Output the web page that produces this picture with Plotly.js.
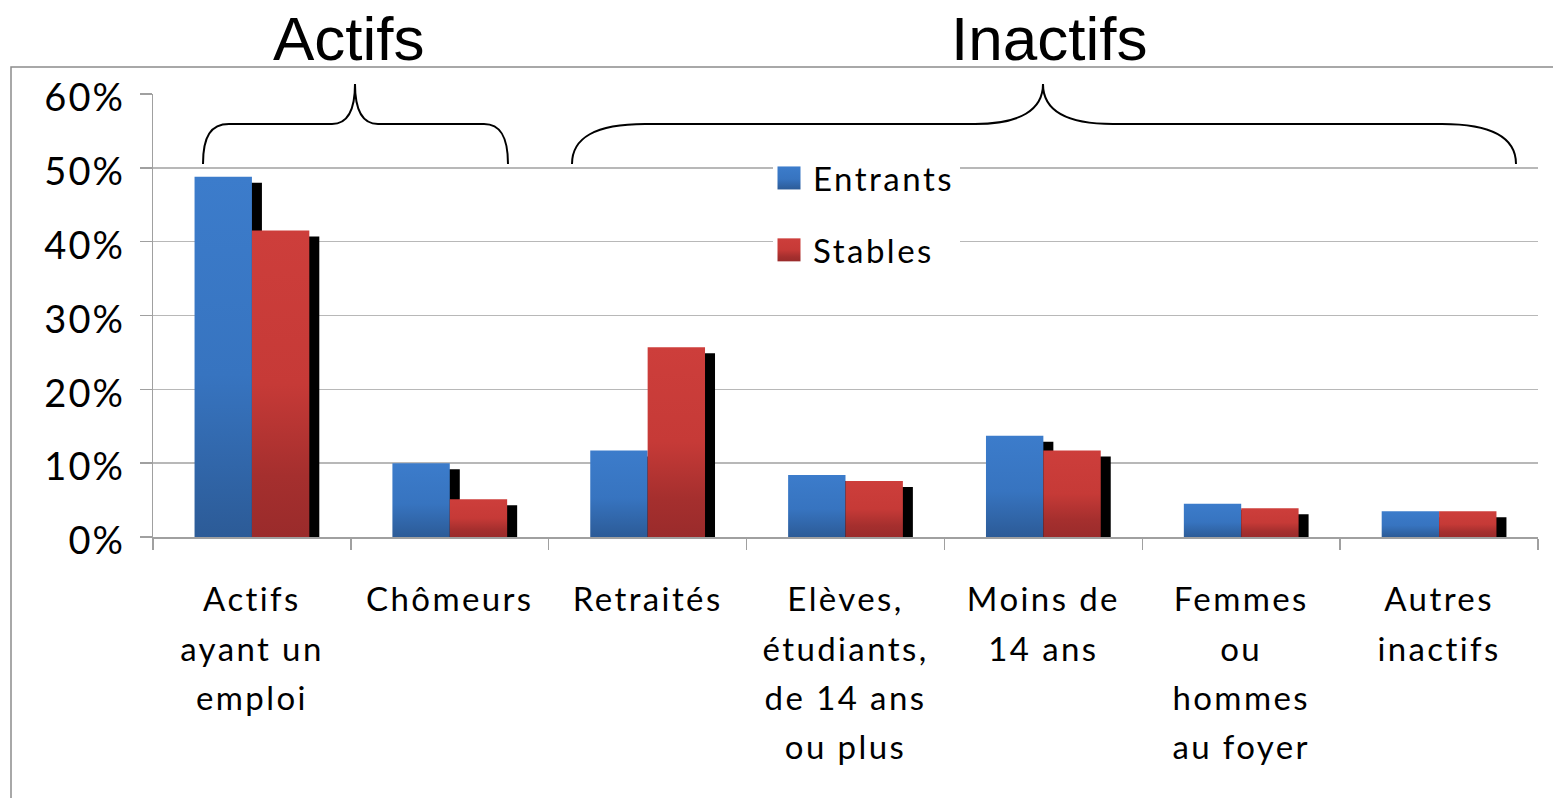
<!DOCTYPE html>
<html><head><meta charset="utf-8">
<script src="https://cdn.plot.ly/plotly-3.0.1.min.js"></script>
<style>html,body{margin:0;padding:0;background:#fff;overflow:hidden}#chart{width:1553px;height:798px}</style>
</head><body><div id="chart"></div>
<script>
// ---- data ----
const categories = ["Actifs ayant un emploi", "Chômeurs", "Retraités", "Elèves, étudiants, de 14 ans ou plus", "Moins de 14 ans", "Femmes ou hommes au foyer", "Autres inactifs"];
const tickLabels = ["Actifs<br>ayant un<br>emploi", "Chômeurs", "Retraités", "Elèves,<br>étudiants,<br>de 14 ans<br>ou plus", "Moins de<br>14 ans", "Femmes<br>ou<br>hommes<br>au foyer", "Autres<br>inactifs"];
const entrants = [48.8, 10.0, 11.7, 8.4, 13.7, 4.5, 3.5];
const stables = [41.5, 5.1, 25.7, 7.6, 11.7, 3.9, 3.5];
const seriesNames = ["Entrants", "Stables"];
const groupLabels = ["Actifs", "Inactifs"];
const yTickVals = [0, 10, 20, 30, 40, 50, 60];
const yTickLabels = ["0%", "10%", "20%", "30%", "40%", "50%", "60%"];

// ---- geometry / style ----
const W = 1553, H = 798;
const L = 153, R = 1538, T = 94, B = 537;
const PW = R - L, PH = B - T;
const BAR_W = 0.29;
const SHADOW_DX = 10 / (PW / 7);
const SHADOW_DROP = 6 / (PH / 60);
const px = x => (x - L) / PW;
const py = y => (B - y) / PH;
function pathPaper(pts) {
  return pts.map(c => c[0] + c.slice(1).reduce((a, v, i) => {
    a.push(i % 2 === 0 ? px(v).toFixed(5) : py(v).toFixed(5)); return a;
  }, []).join(',')).join(' ');
}
const braceActifs = pathPaper([
  ['M', 203, 164], ['C', 203, 136, 211, 124, 229, 124], ['L', 332, 124],
  ['C', 348, 124, 355, 110, 355, 84], ['C', 355, 110, 362, 124, 378, 124],
  ['L', 484, 124], ['C', 500, 124, 508, 136, 508, 164]
]);
const braceInactifs = pathPaper([
  ['M', 572, 164], ['C', 572, 138, 595, 124, 645, 124], ['L', 975, 124],
  ['C', 1020, 124, 1043, 110, 1043, 84], ['C', 1043, 110, 1066, 124, 1113, 124],
  ['L', 1442, 124], ['C', 1492, 124, 1516, 138, 1516, 164]
]);

const spaced = (t, size, ls) => '<span style="font-size:' + size + 'px;letter-spacing:' + ls + 'px">' + t + '</span>';
const styledTicks = tickLabels.map(t => t.split('<br>').map(s => spaced(s, 33, 2.4)).join('<br>'));
const styledYTicks = yTickLabels.map(t => spaced(t, 38, 2));

const data = [
  {type: 'bar', x: categories, y: entrants.map(v => v - SHADOW_DROP), width: BAR_W, offset: -BAR_W + SHADOW_DX,
   marker: {color: '#000000', line: {width: 0}}, showlegend: false, hoverinfo: 'skip'},
  {type: 'bar', x: categories, y: stables.map(v => v - SHADOW_DROP), width: BAR_W, offset: SHADOW_DX,
   marker: {color: '#000000', line: {width: 0}}, showlegend: false, hoverinfo: 'skip'},
  {type: 'bar', name: spaced(seriesNames[0], 33, 2.5), x: categories, y: entrants, width: BAR_W, offset: -BAR_W,
   marker: {color: '#3571bd', line: {width: 0}}, legendgroup: 'e'},
  {type: 'bar', name: spaced(seriesNames[1], 33, 2.5), x: categories, y: stables, width: BAR_W, offset: 0,
   marker: {color: '#bd3734', line: {width: 0}}, legendgroup: 's'}
];

const layout = {
  width: W, height: H,
  margin: {l: L, r: W - R, t: T, b: H - B, pad: 0},
  paper_bgcolor: '#ffffff', plot_bgcolor: '#ffffff',
  barmode: 'overlay',
  font: {family: 'Lato, "Open Sans", sans-serif', color: '#000000', size: 32},
  showlegend: true,
  legend: {
    x: px(773), y: py(150), xanchor: 'left', yanchor: 'top',
    bgcolor: '#ffffff', borderwidth: 0,
    font: {family: 'Lato, sans-serif', size: 33, color: '#000000'},
    traceorder: 'grouped', tracegroupgap: 26, itemwidth: 30
  },
  xaxis: {
    type: 'category', range: [-0.5, 6.5],
    tickmode: 'array', tickvals: categories, ticktext: styledTicks,
    tickson: 'boundaries', ticks: 'outside', ticklen: 11, tickwidth: 1.5, tickcolor: '#a0a0a0',
    showline: true, linecolor: '#a0a0a0', linewidth: 1.5,
    showgrid: false, zeroline: false,
    tickfont: {family: 'Lato, sans-serif', size: 38, color: '#000000'},
    ticklabelstandoff: 27, tickangle: 0, fixedrange: true
  },
  yaxis: {
    range: [0, 60], tickmode: 'array', tickvals: yTickVals, ticktext: styledYTicks,
    ticks: 'outside', ticklen: 12, tickwidth: 1.5, tickcolor: '#a0a0a0',
    showline: true, linecolor: '#a0a0a0', linewidth: 1.5,
    showgrid: true, gridcolor: '#b8b8b8', gridwidth: 1.5, zeroline: false,
    tickfont: {family: 'Lato, sans-serif', size: 38, color: '#000000'},
    ticklabelstandoff: 7, ticklabelshift: 4, fixedrange: true
  },
  shapes: [
    {type: 'rect', xref: 'paper', yref: 'paper', x0: px(11), y0: py(820), x1: px(1570), y1: py(67),
     line: {color: '#8c8c8c', width: 1.5}, fillcolor: 'rgba(0,0,0,0)', layer: 'below'},
    {type: 'path', xref: 'paper', yref: 'paper', path: braceActifs, line: {color: '#000000', width: 2}},
    {type: 'path', xref: 'paper', yref: 'paper', path: braceInactifs, line: {color: '#000000', width: 2}}
  ],
  annotations: [
    {xref: 'paper', yref: 'paper', x: px(349), y: py(38), text: groupLabels[0], showarrow: false,
     xanchor: 'center', yanchor: 'middle', font: {family: '"Liberation Sans", Arial, sans-serif', size: 62, color: '#000000'}},
    {xref: 'paper', yref: 'paper', x: px(1049), y: py(38), text: groupLabels[1], showarrow: false,
     xanchor: 'center', yanchor: 'middle', font: {family: '"Liberation Sans", Arial, sans-serif', size: 62, color: '#000000'}}
  ]
};

Plotly.newPlot('chart', data, layout, {staticPlot: true, displayModeBar: false}).then(gd => {
  const svg = gd.querySelector('svg.main-svg');
  const ns = 'http://www.w3.org/2000/svg';
  let defs = svg.querySelector('defs');
  if (!defs) { defs = document.createElementNS(ns, 'defs'); svg.insertBefore(defs, svg.firstChild); }
  function addGrad(id, stops) {
    const g = document.createElementNS(ns, 'linearGradient');
    g.setAttribute('id', id); g.setAttribute('x1', '0'); g.setAttribute('y1', '0'); g.setAttribute('x2', '0'); g.setAttribute('y2', '1');
    stops.forEach(s => { const st = document.createElementNS(ns, 'stop'); st.setAttribute('offset', s[0]); st.setAttribute('stop-color', s[1]); g.appendChild(st); });
    defs.appendChild(g);
  }
  addGrad('gBlue', [[0, '#3c7ccb'], [0.55, '#3774c0'], [1, '#2c5b97']]);
  addGrad('gRed', [[0, '#cd3e3b'], [0.5, '#c63a37'], [0.8, '#a52f2e'], [1, '#9a2b2b']]);
  const traces = gd.querySelectorAll('.barlayer .trace');
  if (traces.length === 4) {
    traces[2].querySelectorAll('path').forEach(p => p.style.fill = 'url(#gBlue)');
    traces[3].querySelectorAll('path').forEach(p => p.style.fill = 'url(#gRed)');
  }
  gd.querySelectorAll('.legend .traces').forEach((t, i) => {
    const p = t.querySelector('.legendpoints path');
    if (p) {
      p.setAttribute('d', 'M11.5,11.5H-11.5V-11.5H11.5Z');
      p.setAttribute('transform', 'translate(16,0)');
      p.style.fill = i === 0 ? 'url(#gBlue)' : 'url(#gRed)';
      p.style.strokeWidth = '0';
    }
  });
});
</script>
</body></html>
